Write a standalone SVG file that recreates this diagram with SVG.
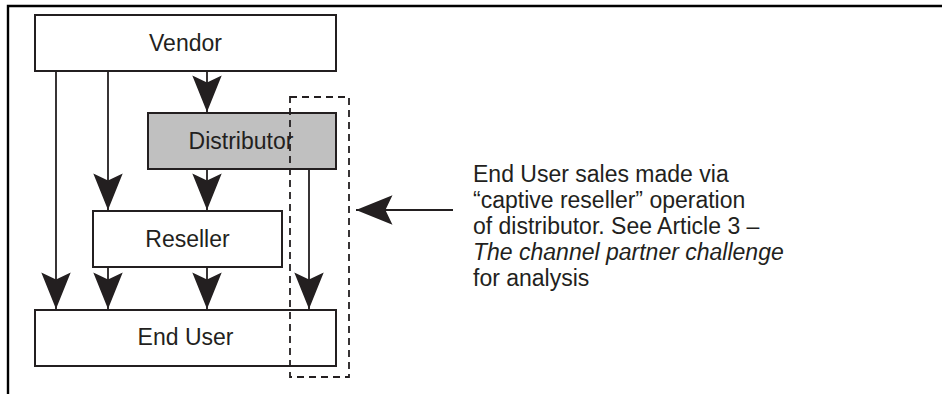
<svg xmlns="http://www.w3.org/2000/svg" width="942" height="394" viewBox="0 0 942 394">
<style>
.box{stroke:#231f20;stroke-width:2;fill:#fff}
.grey{fill:#c0c0c0}
.lbl{font-family:"Liberation Sans",Arial,sans-serif;font-size:23px;fill:#231f20;text-anchor:middle}
.note{font-family:"Liberation Sans",Arial,sans-serif;font-size:23px;fill:#231f20}
.conn{stroke:#231f20;stroke-width:1.8;fill:none}
</style>
<defs>
<marker id="ah" markerUnits="userSpaceOnUse" markerWidth="40" markerHeight="40" viewBox="-32 -14 34 28" refX="0" refY="0" orient="auto">
<path d="M0,0 L-31,-12.5 L-25,0 L-31,12.5 Z" fill="#231f20"/>
</marker>
</defs>
<rect width="942" height="394" fill="#fff"/>
<path d="M8,394 V6 H942" stroke="#000" stroke-width="2.4" fill="none"/>
<g id="vendor"><rect class="box" x="35" y="15" width="301" height="56"/><text class="lbl" x="185.5" y="51">Vendor</text></g>
<g id="distributor"><rect class="box grey" x="148" y="113" width="188" height="56"/><text class="lbl" x="241" y="149">Distributor</text></g>
<g id="reseller"><rect class="box" x="93" y="211" width="189" height="56"/><text class="lbl" x="187.5" y="247">Reseller</text></g>
<g id="enduser"><rect class="box" x="35" y="310" width="301" height="56"/><text class="lbl" x="185.5" y="345">End User</text></g>
<g id="connectors">
<line class="conn" x1="207" y1="71" x2="207" y2="112" marker-end="url(#ah)"/>
<line class="conn" x1="56" y1="71" x2="56" y2="309" marker-end="url(#ah)"/>
<line class="conn" x1="108" y1="71" x2="108" y2="210" marker-end="url(#ah)"/>
<line class="conn" x1="207" y1="169" x2="207" y2="210" marker-end="url(#ah)"/>
<line class="conn" x1="108" y1="267" x2="108" y2="309" marker-end="url(#ah)"/>
<line class="conn" x1="207" y1="267" x2="207" y2="309" marker-end="url(#ah)"/>
<line class="conn" x1="309" y1="169" x2="309" y2="309" marker-end="url(#ah)"/>
<line class="conn" x1="453" y1="210" x2="356" y2="210" marker-end="url(#ah)"/>
</g>
<g id="captive">
<rect x="290" y="97" width="59" height="280" fill="none" stroke="#231f20" stroke-width="1.8" stroke-dasharray="7,5"/>
</g>
<g id="note">
<text class="note" x="473" y="182">End User sales made via</text>
<text class="note" x="473" y="208">“captive reseller” operation</text>
<text class="note" x="473" y="234">of distributor. See Article 3 –</text>
<text class="note" x="473" y="260"><tspan font-style="italic">The channel partner challenge</tspan></text>
<text class="note" x="473" y="286">for analysis</text>
</g>
</svg>
